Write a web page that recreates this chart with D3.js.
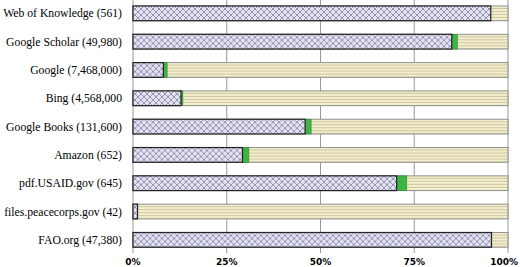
<!DOCTYPE html>
<html>
<head>
<meta charset="utf-8">
<script src="https://cdn.jsdelivr.net/npm/d3@7"></script>
<style>
  body { margin: 0; background: #fff; }
  svg { display: block; }
</style>
</head>
<body>
<svg id="chart" width="520" height="267"></svg>
<script>
// Data
const sources = [
  "Web of Knowledge (561)",
  "Google Scholar (49,980)",
  "Google (7,468,000)",
  "Bing (4,568,000",
  "Google Books (131,600)",
  "Amazon (652)",
  "pdf.USAID.gov (645)",
  "files.peacecorps.gov (42)",
  "FAO.org (47,380)"
];
// share of hits (percent) per segment
const hatchedShare = [95.4, 85.0, 8.1, 12.8, 45.9, 29.2, 70.3, 1.2, 95.6];
const greenShare   = [0,    1.5,  1.0, 0.5,  1.6,  1.7,  2.7,  0,   0];
const tickValues = [0, 25, 50, 75, 100];

const svg = d3.select("#chart");
const width = 520, height = 267;
const margin = { left: 133, right: 12, top: 6, bottom: 22 };

const x = d3.scaleLinear().domain([0, 100]).range([margin.left, width - margin.right]);
const y = d3.scaleBand().domain(sources).range([margin.top - 6.8, 254]).paddingInner(0.48).paddingOuter(0.24);

// Patterns
const defs = svg.append("defs");
const cross = defs.append("pattern")
  .attr("id", "cross").attr("patternUnits", "userSpaceOnUse")
  .attr("width", 6).attr("height", 6);
cross.append("rect").attr("width", 6).attr("height", 6).attr("fill", "#e2e2f3");
cross.append("path").attr("d", "M0,0 L6,6 M6,0 L0,6 M-1,5 L1,7 M5,-1 L7,1 M-1,1 L1,-1 M5,7 L7,5")
  .attr("stroke", "#8a8aa6").attr("stroke-width", 0.9);

const stripes = defs.append("pattern")
  .attr("id", "stripes").attr("patternUnits", "userSpaceOnUse")
  .attr("width", 4).attr("height", 3);
stripes.append("rect").attr("width", 4).attr("height", 3).attr("fill", "#f3eecb");
stripes.append("rect").attr("y", 2).attr("width", 4).attr("height", 1).attr("fill", "#cdc5a3");

// Gridlines
svg.append("g").selectAll("line").data(tickValues).join("line")
  .attr("x1", d => x(d)).attr("x2", d => x(d))
  .attr("y1", 0).attr("y2", 253)
  .attr("stroke", "#999").attr("stroke-width", 1);

const rows = svg.append("g").selectAll("g").data(sources).join("g")
  .attr("transform", d => `translate(0,${y(d)})`);

const bh = y.bandwidth();

// Remaining (beige) spans the whole bar
rows.append("rect")
  .attr("x", x(0)).attr("y", 0)
  .attr("width", x(100) - x(0)).attr("height", bh)
  .attr("fill", "url(#stripes)").attr("stroke", "#8f8f8f").attr("stroke-width", 1);

// Green segment
rows.append("rect")
  .attr("x", (d, i) => x(hatchedShare[i]))
  .attr("y", 0)
  .attr("width", (d, i) => x(greenShare[i]) - x(0))
  .attr("height", bh)
  .attr("fill", "#3db443").attr("stroke", "#2d8a31").attr("stroke-width", 0.6);

// Hatched segment
rows.append("rect")
  .attr("x", x(0)).attr("y", 0)
  .attr("width", (d, i) => x(hatchedShare[i]) - x(0))
  .attr("height", bh)
  .attr("fill", "url(#cross)").attr("stroke", "#222").attr("stroke-width", 1.2);

// Category labels
const labels = rows.append("text")
  .attr("x", 122).attr("y", bh / 2)
  .attr("dy", "0.35em")
  .attr("text-anchor", "end")
  .attr("font-family", "'Liberation Serif', 'DejaVu Serif', serif")
  .attr("font-size", 13)
  .attr("fill", "#000")
  .text(d => d);

// keep the longest label inside the left margin
const maxW = d3.max(labels.nodes(), n => n.getComputedTextLength());
if (maxW > 119) labels.attr("font-size", 13 * 119 / maxW);

// Tick labels
svg.append("g").selectAll("text").data(tickValues).join("text")
  .attr("x", d => d === 100 ? 518 : x(d)).attr("y", 265)
  .attr("text-anchor", d => d === 100 ? "end" : "middle")
  .attr("font-family", "'DejaVu Sans', sans-serif")
  .attr("font-size", 9)
  .attr("font-weight", "bold")
  .attr("fill", "#000")
  .text(d => d + "%");
</script>
</body>
</html>
